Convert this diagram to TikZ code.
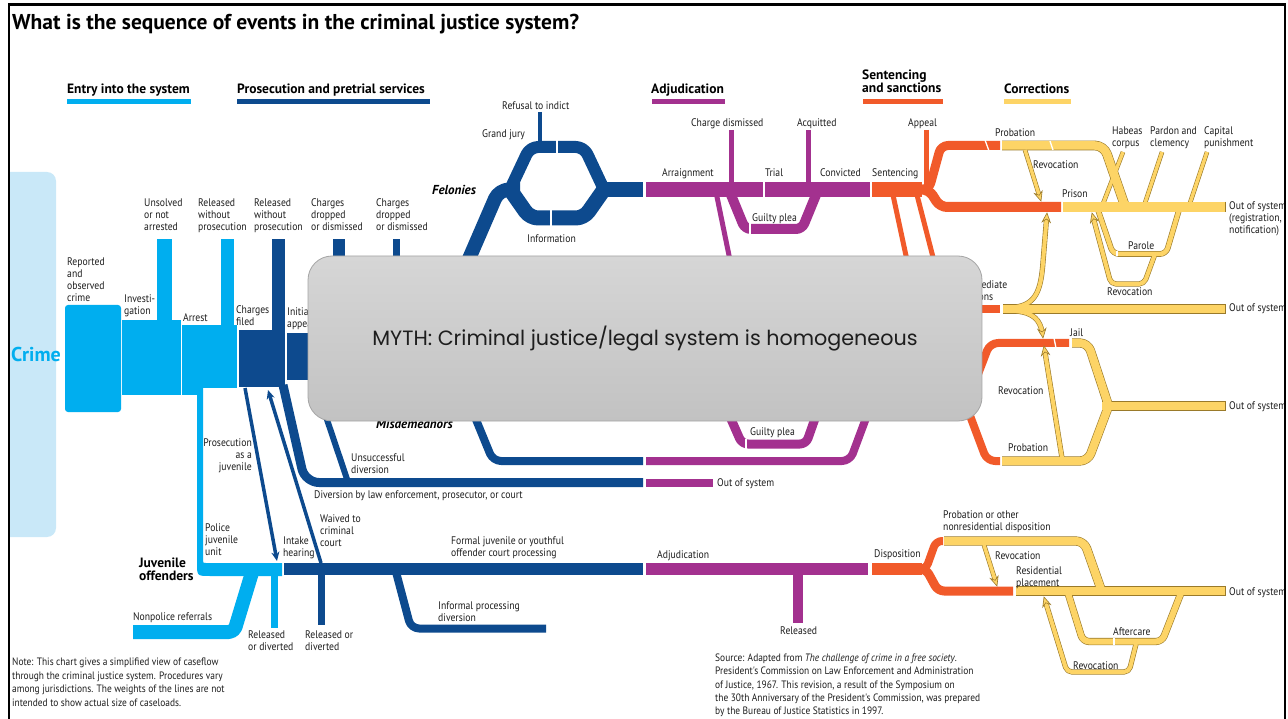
\documentclass[tikz,border=0pt]{standalone}
\usepackage{fontspec}
\usetikzlibrary{arrows.meta,calc}
\newfontfamily\lfont[FakeStretch=0.88]{PT Sans}
\newfontfamily\hfont{PT Sans}
\newfontfamily\mfont{Poppins}
\definecolor{lblue}{HTML}{00AEEF}
\definecolor{crimebg}{HTML}{C9E8F8}
\definecolor{dblue}{HTML}{0D4A8E}
\definecolor{purp}{HTML}{A3318F}
\definecolor{orng}{HTML}{F15A2A}
\definecolor{yfill}{HTML}{FDD466}
\definecolor{ydark}{HTML}{9A7A2A}
\definecolor{boxtop}{HTML}{D6D6D6}
\definecolor{boxbot}{HTML}{C2C2C2}
\definecolor{boxline}{HTML}{A5A5A5}
\definecolor{txt}{HTML}{1E1E1E}
\pgfdeclarelayer{bgl}\pgfdeclarelayer{yout}\pgfdeclarelayer{yin}
\pgfsetlayers{bgl,yout,yin,main}
\newcommand\lfs{\lfont\fontsize{11}{12}\selectfont}
\newcommand\nfs{\lfont\fontsize{10.7}{13.4}\selectfont}
\newcommand\hfs{\hfont\bfseries\fontsize{13.5}{13}\selectfont}
\tikzset{
  fl/.style={line cap=butt, line join=round},
  lb/.style={font=\lfs, text=txt, inner sep=0pt, align=left, anchor=north west},
  lbr/.style={lb, align=right, anchor=north east},
  nt/.style={font=\nfs, text=txt, inner sep=0pt, align=left, anchor=north west},
  hd/.style={font=\hfs, text=black, inner sep=0pt, align=left, anchor=north west},
  bi/.style={font=\hfont\bfseries\itshape\fontsize{13}{13}\selectfont, text=black, inner sep=0pt, anchor=north west},
  wsep/.style={white, line width=1.3pt},
}
\newcommand\yp[4][]{%
  \begin{pgfonlayer}{yout}\draw[fl,draw=ydark,line width=#3,#1] #4;\end{pgfonlayer}%
  \begin{pgfonlayer}{yin}\draw[fl,draw=yfill,line width=#2,#1] #4;\end{pgfonlayer}}
\newcommand\yhead[2]{\filldraw[fill=yfill,draw=ydark,line width=.6pt,line join=miter] #1 -- ($#1!10pt!24:#2$) -- ($#1!6pt!#2$) -- ($#1!10pt!-24:#2$) -- cycle;}
\begin{document}
\begin{tikzpicture}[x=1pt,y=-1pt]
\begin{pgfonlayer}{bgl}
\fill[white] (0,0) rectangle (1288,719);
\end{pgfonlayer}
\useasboundingbox (0,0) rectangle (1288,719);

% ---------- title and headers
\node[font=\hfont\bfseries\fontsize{21.5}{22}\selectfont, inner sep=0pt, anchor=base west] (title) at (12,29.5) {What is the sequence of events in the criminal justice system?};
\node[hd] (hEntry) at (67,84) {Entry into the system};
\draw[lblue, fl, line width=5] (67,101.5) -- (191,101.5);
\node[hd] (hPros) at (237,84) {Prosecution and pretrial services};
\draw[dblue, fl, line width=5] (237,101.5) -- (430,101.5);
\node[hd] (hAdj) at (651,84) {Adjudication};
\draw[purp, fl, line width=5] (652,101.5) -- (725,101.5);
\node[hd] (hSent) at (862,70) {Sentencing\\and sanctions};
\draw[orng, fl, line width=5] (863,101.5) -- (943,101.5);
\node[hd] (hCorr) at (1004,84) {Corrections};
\draw[yfill, fl, line width=5] (1004,101.5) -- (1071,101.5);

% ---------- entry (light blue)
\begin{scope}
\clip (10,0) rectangle (1288,719);
\fill[crimebg, rounded corners=9] (-20,172) rectangle (56,537);
\end{scope}
\node[font=\hfont\bfseries\fontsize{20}{20}\selectfont, text=lblue, inner sep=0pt, anchor=west] (crime) at (11,354) {Crime};
\fill[lblue, rounded corners=3] (65,305) rectangle (121,412);
\fill[lblue] (122,320) rectangle (181,395);
\fill[lblue] (157,239) rectangle (172,325);
\fill[lblue] (182,325) rectangle (237,388);
\fill[lblue] (182,388) rectangle (203,395);
\fill[lblue] (221,239) rectangle (234,330);
\fill[lblue] (197,388) -- (197,563) .. controls (197,576) .. (210,576) -- (282,576) -- (282,563) -- (206,563) .. controls (203,563) .. (203,560) -- (203,388) -- cycle;
\draw[lblue, fl, line width=14, rounded corners=5] (133,632) -- (234,632) -- (254,566);
\draw[lblue, fl, line width=7] (274.5,576) -- (274.5,628);

% ---------- prosecution (dark blue)
\fill[dblue] (239,330) rectangle (285,387);
\fill[dblue] (272,239) rectangle (285,330);
\fill[dblue] (287,333) rectangle (330,380);
\fill[dblue] (333,239) rectangle (345,270);
\fill[dblue] (393,239) rectangle (400,270);
\draw[dblue, fl, line width=9, rounded corners=14] (283,385) -- (305,482.5) -- (643,482.5);
\draw[dblue, fl, line width=6] (312,375) -- (348,482);
\draw[dblue, line width=3.5, -{Stealth[length=9,width=8]}] (245,388) -- (277,561);
\draw[dblue, line width=3.5, -{Stealth[length=9,width=8]}] (321,563) -- (268,390);
\draw[dblue, fl, line width=12] (284,569) -- (643,569);
\draw[dblue, fl, line width=7] (321.5,575) -- (321.5,625);
\draw[dblue, fl, line width=8, rounded corners=8] (396,572) -- (411,628.5) -- (546,628.5);
% felonies
\draw[dblue, fl, line width=14, rounded corners=10] (462,275) -- (499,189.5) -- (520,189.5);
\draw[dblue, fl, line width=12, rounded corners=8] (510,189.5) -- (530,147) -- (584,147) -- (604,189.5);
\draw[dblue, fl, line width=15, rounded corners=8] (510,189.5) -- (530,218) -- (584,218) -- (604,189.5);
\draw[dblue, fl, line width=15] (598,189.5) -- (643,189.5);
\draw[dblue, fl, line width=4] (540,112) -- (540,146);
\draw[wsep] (557,140) -- (557,154);
\draw[wsep] (551,209) -- (551,227);
% misdemeanors
\draw[dblue, fl, line width=8, rounded corners=8] (470,405) -- (493,461) -- (643,461);

% ---------- adjudication (purple)
\draw[purp, fl, line width=15] (646,189.5) -- (763,189.5);
\draw[purp, fl, line width=15] (765,189.5) -- (870,189.5);
\draw[purp, fl, line width=5] (731,130) -- (731,186);
\draw[purp, fl, line width=5] (808,130) -- (808,186);
\draw[purp, fl, line width=10, rounded corners=6] (729,190) -- (745,229) -- (802,229) -- (818,190);
\draw[wsep] (750,223) -- (750,235);
\draw[purp, fl, line width=5] (716,192) -- (732,270);
\draw[purp, fl, line width=8, rounded corners=8] (646,461) -- (850,461) -- (869,410);
\draw[purp, fl, line width=9, rounded corners=6] (727,410) -- (742,444) -- (806,444) -- (818,410);
\draw[wsep] (746,439) -- (746,450);
\draw[purp, fl, line width=8] (646,482.5) -- (713,482.5);
\draw[purp, fl, line width=12] (646,569) -- (868,569);
\draw[purp, fl, line width=10] (798,570) -- (798,623);

% ---------- sentencing (orange)
\draw[orng, fl, line width=15] (872,189.5) -- (922,189.5);
\draw[orng, fl, line width=5] (926,130) -- (926,186);
\draw[orng, fl, line width=9, rounded corners=7] (915,189.5) -- (929,189.5) -- (941,145.5) -- (1000,145.5);
\draw[orng, fl, line width=10, rounded corners=7] (915,189.5) -- (929,189.5) -- (940,207) -- (1061,207);
\draw[orng, fl, line width=5] (893,195) -- (908,265);
\draw[orng, fl, line width=5] (917,195) -- (935,265);
\draw[orng, fl, line width=8] (975,309) -- (1000,309);
\draw[orng, fl, line width=8, rounded corners=8] (970,395) -- (990,343) -- (1069,343);
\draw[orng, fl, line width=8, rounded corners=8] (966,405) -- (987,461) -- (1000,461);
\draw[orng, fl, line width=12] (872,569) -- (922,569);
\draw[orng, fl, line width=8, rounded corners=6] (915,569) -- (926,569) -- (936,541) -- (943,541);
\draw[orng, fl, line width=9, rounded corners=6] (915,569) -- (926,569) -- (938,591) -- (1013,591);
\draw[wsep] (985,140) .. controls (987,146) .. (989,151);
\draw[wsep] (1054,338) .. controls (1055,343) .. (1056,348);

% ---------- corrections (yellow)
\yp[rounded corners=9]{8.5}{9.7}{(1002,145.5) -- (1104,145.5) -- (1126,209)}
\yp{9.5}{10.7}{(1063,207) -- (1225,207)}
\yp{3.4}{4.6}{(1025,150) -- ($(1041,201)!5pt!(1025,150)$)}
\yp{3.4}{4.6}{(1123,152) -- (1101,209)}
\yp{3.4}{4.6}{(1162,152) -- (1143,209)}
\yp{3.4}{4.6}{(1207,152) -- (1188,209)}
\yp[rounded corners=6]{4.5}{5.7}{(1098,210) -- (1113,254) -- (1166,254) -- (1179,210)}
\yp[rounded corners=5]{4}{5.2}{(1155,254) -- (1144,284) -- (1111,284) -- ($(1092,213)!5pt!(1111,284)$)}
\yp{8}{9.2}{(1003,309) -- (1225,309)}
\yp{4}{5.2}{(1016,307) .. controls (1036,304) and (1041,290) .. (1043,262) -- ($(1047,213)!5pt!(1043,262)$)}
\yp{4}{5.2}{(1016,311) .. controls (1034,313) and (1040,320) .. ($(1043,338)!5pt!(1041,322)$)}
\yp[rounded corners=8]{8}{9.2}{(1072,343) -- (1088,343) -- (1109,407)}
\yp{8}{9.2}{(1102,406) -- (1225,406)}
\yp[rounded corners=8]{8}{9.2}{(1002,461) -- (1088,461) -- (1109,405)}
\yp{4}{5.2}{(1062,458) -- ($(1044,346)!5pt!(1062,458)$)}
\yp[rounded corners=8]{8}{9.2}{(944,541) -- (1084,541) -- (1102,592)}
\yp{8}{9.2}{(1016,591) -- (1225,591)}
\yp{3.5}{4.7}{(984,545) -- ($(997,586)!5pt!(984,545)$)}
\yp[rounded corners=6]{6}{7.2}{(1068,593) -- (1083,641.5) -- (1162,641.5) -- (1181,593)}
\yp[rounded corners=5]{4}{5.2}{(1136,644) -- (1129,672) -- (1067,672) -- ($(1044,597)!5pt!(1067,672)$)}
\yhead{(1041,201)}{(1025,150)}
\yhead{(1092,213)}{(1111,284)}
\yhead{(1047,213)}{(1043,262)}
\yhead{(1043,338)}{(1041,322)}
\yhead{(1044,346)}{(1062,458)}
\yhead{(997,586)}{(984,545)}
\yhead{(1044,597)}{(1067,672)}
\foreach \yy/\hh in {207/5.3,309/4.6,406/4.6,591/4.6}
  \draw[ydark, line width=.6pt] (1225.3,\yy-\hh) -- (1225.3,\yy+\hh);
\draw[wsep] (1050,141) .. controls (1051.5,145.5) .. (1053,150);
\draw[wsep] (1117,251.5) -- (1117,256.5);
\draw[wsep] (1114,638) -- (1114,645);

% ---------- labels
\node[lb] (l1) at (144,198.5) {Unsolved\\or not\\arrested};
\node[lb] (l2) at (198,198.5) {Released\\without\\prosecution};
\node[lb] (l3) at (254,198.5) {Released\\without\\prosecution};
\node[lb] (l4) at (311,198.5) {Charges\\dropped\\or dismissed};
\node[lb] (l5) at (376,198.5) {Charges\\dropped\\or dismissed};
\node[lb] (l6) at (67,257.5) {Reported\\and\\observed\\crime};
\node[lb] (l7) at (124,294.5) {Investi-\\gation};
\node[lb] (l8) at (183,313.5) {Arrest};
\node[lb] (l9) at (236,305.5) {Charges\\filed};
\node[lb] (l10) at (287,307.5) {Initial\\appearance};
\node[lbr] (l11) at (252,438.5) {Prosecution\\as a\\juvenile};
\node[lb] (l12) at (205,523.5) {Police\\juvenile\\unit};
\node[hd] (l13) at (139,557.5) {Juvenile\\offenders};
\node[lb] (l14) at (283,536.5) {Intake\\hearing};
\node[lb] (l15) at (320,514.5) {Waived to\\criminal\\court};
\node[lb] (l16) at (133,612.5) {Nonpolice referrals};
\node[lb] (l17) at (248,630.5) {Released\\or diverted};
\node[lb] (l18) at (305,630.5) {Released or\\diverted};
\node[lb] (l19) at (314,490.5) {Diversion by law enforcement, prosecutor, or court};
\node[lb] (l20) at (351,453.5) {Unsuccessful\\diversion};
\node[lb] (l21) at (451,536.5) {Formal juvenile or youthful\\offender court processing};
\node[lb] (l22) at (438,601.5) {Informal processing\\diversion};
\node[lb] (l23) at (657,550.5) {Adjudication};
\node[lb] (l24) at (780,626.5) {Released};
\node[lb] (l25) at (874,549.5) {Disposition};
\node[lb] (l26) at (717,478.5) {Out of system};
\node[lb] (l27) at (943,510.5) {Probation or other\\nonresidential disposition};
\node[lb] (l28) at (995,551.5) {Revocation};
\node[lb] (l29) at (1016,566.5) {Residential\\placement};
\node[lb] (l30) at (1229,587.5) {Out of system};
\node[lb] (l31) at (1113,627.5) {Aftercare};
\node[lb] (l32) at (1073,661.5) {Revocation};
\node[lb] (l33) at (502,101.5) {Refusal to indict};
\node[lb] (l34) at (482,129.5) {Grand jury};
\node[bi] (l35) at (432,185) {Felonies};
\node[lb] (l36) at (527,234.5) {Information};
\node[bi] (l37) at (376,419) {Misdemeanors};
\node[lb] (l38) at (691,118.5) {Charge dismissed};
\node[lb] (l39) at (797,118.5) {Acquitted};
\node[lb] (l40) at (662,168.5) {Arraignment};
\node[lb] (l41) at (765,168.5) {Trial};
\node[lb] (l42) at (820,168.5) {Convicted};
\node[lb] (l43) at (872,168.5) {Sentencing};
\node[lb] (l44) at (752,213.5) {Guilty plea};
\node[lb] (l45) at (750,427.5) {Guilty plea};
\node[lb] (l46) at (908,118.5) {Appeal};
\node[lb] (l47) at (995,128.5) {Probation};
\node[lb] (l48) at (1033,160.5) {Revocation};
\node[lb] (l49) at (1062,189.5) {Prison};
\node[lb] (l50) at (1112,126.5) {Habeas\\corpus};
\node[lb] (l51) at (1150,126.5) {Pardon and\\clemency};
\node[lb] (l52) at (1204,126.5) {Capital\\punishment};
\node[lb] (l53) at (1229,201.5) {Out of system\\(registration,\\notification)};
\node[lb] (l54) at (1128,241.5) {Parole};
\node[lb] (l55) at (1107,287.5) {Revocation};
\node[lb] (l56) at (954,280.5) {Intermediate\\sanctions};
\node[lb] (l57) at (1229,303.5) {Out of system};
\node[lb] (l58) at (1070,328.5) {Jail};
\node[lb] (l59) at (998,386.5) {Revocation};
\node[lb] (l60) at (1008,443.5) {Probation};
\node[lb] (l61) at (1229,401.5) {Out of system};
\node[nt] (note) at (12,658) {Note: This chart gives a simplified view of caseflow\\through the criminal justice system. Procedures vary\\among jurisdictions. The weights of the lines are not\\intended to show actual size of caseloads.};
\node[nt] (src) at (715,653.5) {Source: Adapted from \textit{The challenge of crime in a free society}.\\President's Commission on Law Enforcement and Administration\\of Justice, 1967. This revision, a result of the Symposium on\\the 30th Anniversary of the President's Commission, was prepared\\by the Bureau of Justice Statistics in 1997.};

% ---------- myth box
\node[draw=boxline, line width=0.8pt, rounded corners=24pt, top color=boxtop, bottom color=boxbot,
      minimum width=674pt, minimum height=165pt, inner sep=0pt,
      font=\mfont\fontsize{20.7}{22}\selectfont, text=txt] (myth) at (645,338.5)
      {MYTH: Criminal justice/legal system is homogeneous};

% ---------- frame
\draw[black, line width=2.5pt] (9,725) -- (9,4.5) -- (1285,4.5) -- (1285,725);
\end{tikzpicture}
\end{document}
